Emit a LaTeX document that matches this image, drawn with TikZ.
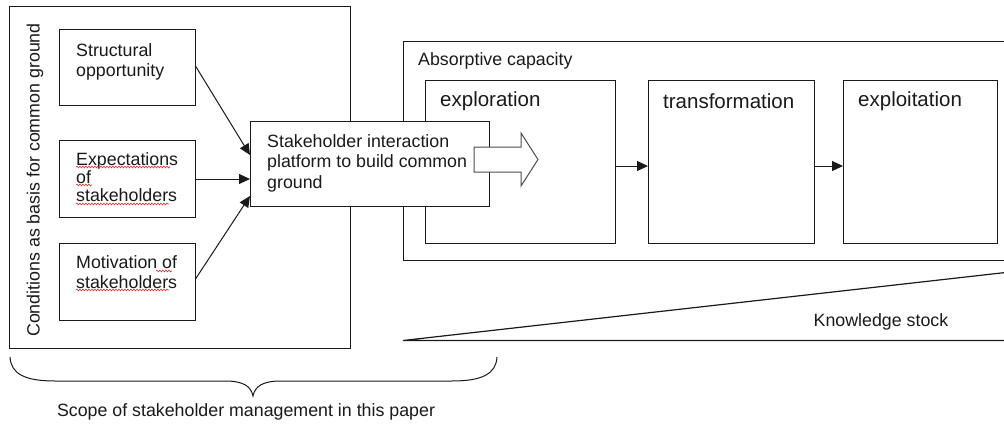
\documentclass[tikz,border=0pt]{standalone}
\usepackage{fontspec}
\setmainfont{Liberation Sans}
\usetikzlibrary{arrows.meta,decorations.pathmorphing}
\definecolor{ln}{HTML}{1A1A1A}
\definecolor{sq}{HTML}{E03030}
\tikzset{
  box/.style={draw=ln, line width=1pt, fill=white, rectangle, inner sep=0pt},
  lbl/.style={anchor=north west, inner sep=0pt, align=left, font=\fontsize{17.8}{20.5}\selectfont, text=ln},
  hdr/.style={anchor=west, inner sep=0pt, font=\fontsize{20.5}{23}\selectfont, text=ln},
  plain/.style={inner sep=0pt, font=\fontsize{17.8}{20}\selectfont, text=ln},
  con/.style={draw=ln, line width=1pt, -{Triangle[length=11pt,width=10pt]}},
  squig/.style={draw=sq, line width=0.6pt, decorate, decoration={snake, amplitude=0.9pt, segment length=3pt}},
}
\begin{document}
\begin{tikzpicture}[x=1pt,y=-1pt]
\clip (0,0) rectangle (1004,428);
\fill[white] (0,0) rectangle (1004,428);

% left frame
\node[box, minimum width=341pt, minimum height=341pt] (frame) at (179.5,177.5) {};
\node[plain, rotate=90] (cond) at (35,180) {Conditions as basis for common ground};

% condition boxes
\node[box, minimum width=136pt, minimum height=76pt] (struct) at (127,67.5) {};
\node[box, minimum width=136pt, minimum height=77pt] (expect) at (127,178.5) {};
\node[box, minimum width=136pt, minimum height=77pt] (motiv) at (127,281.5) {};
\node[lbl] (tstruct) at (76,43) {Structural\\opportunity};
\node[lbl, font=\fontsize{17.8}{18.2}\selectfont] (texpect) at (76,152) {Expectations\\of\\stakeholders};
\node[lbl] (tmotiv) at (76,255) {Motivation of\\stakeholders};

% spell-check squiggles
\draw[squig] (76,167) -- (170,167);
\draw[squig] (76,185) -- (92,185);
\draw[squig] (76,204) -- (169,204);
\draw[squig] (156,271) -- (172,271);
\draw[squig] (76,290) -- (169,290);

% absorptive capacity
\node[box, minimum width=640pt, minimum height=219pt, anchor=north west] (absorb) at (403,41) {};
\node[plain, anchor=west] (tabsorb) at (418,61) {Absorptive capacity};
\node[box, minimum width=190pt, minimum height=163pt, anchor=north west] (explor) at (425,80) {};
\node[box, minimum width=166pt, minimum height=163pt, anchor=north west] (transf) at (648,80) {};
\node[box, minimum width=154pt, minimum height=163pt, anchor=north west] (exploit) at (843,80) {};
\node[hdr] (texplor) at (440,101) {exploration};
\node[hdr] (ttransf) at (663,101) {transformation};
\node[hdr] (texploit) at (858,101) {exploitation};
\draw[con] (explor.east |- 0,166) -- (transf.west |- 0,166);
\draw[con] (transf.east |- 0,166) -- (exploit.west |- 0,166);

% stakeholder platform
\node[box, minimum width=239pt, minimum height=85pt, anchor=north west] (platform) at (250,120.5) {};
\node[lbl] (tplatform) at (267,134) {Stakeholder interaction\\platform to build common\\ground};

\draw[con] (struct.east |- 0,66) -- (platform.west |- 0,155);
\draw[con] (expect.east |- 0,179) -- (platform.west |- 0,179);
\draw[con] (motiv.east |- 0,279) -- (platform.west |- 0,196);

% block arrow
\draw[draw=black!70, fill=white, line width=1pt, line join=miter]
  (474,147) -- (521,147) -- (521,133) -- (538,159.5) -- (521,186) -- (521,172) -- (474,172) -- cycle;

% knowledge stock wedge
\coordinate (kA) at (403,340.5);
\coordinate (kB) at (1010,272);
\coordinate (kC) at (1010,340.5);
\draw[ln, line width=1.2pt] (kB) -- (kA) -- (kC);
\node[plain] (tknow) at (881,322) {Knowledge stock};

% brace
\draw[ln, line width=1pt]
  (10,357) .. controls (11,374) and (25,381) .. (55,381) -- (225,381)
  .. controls (243,381) and (251,386) .. (253,396)
  .. controls (255,386) and (263,381) .. (281,381) -- (452,381)
  .. controls (482,381) and (496,374) .. (497,357);
\node[plain] (tscope) at (246,412) {Scope of stakeholder management in this paper};
\end{tikzpicture}
\end{document}
